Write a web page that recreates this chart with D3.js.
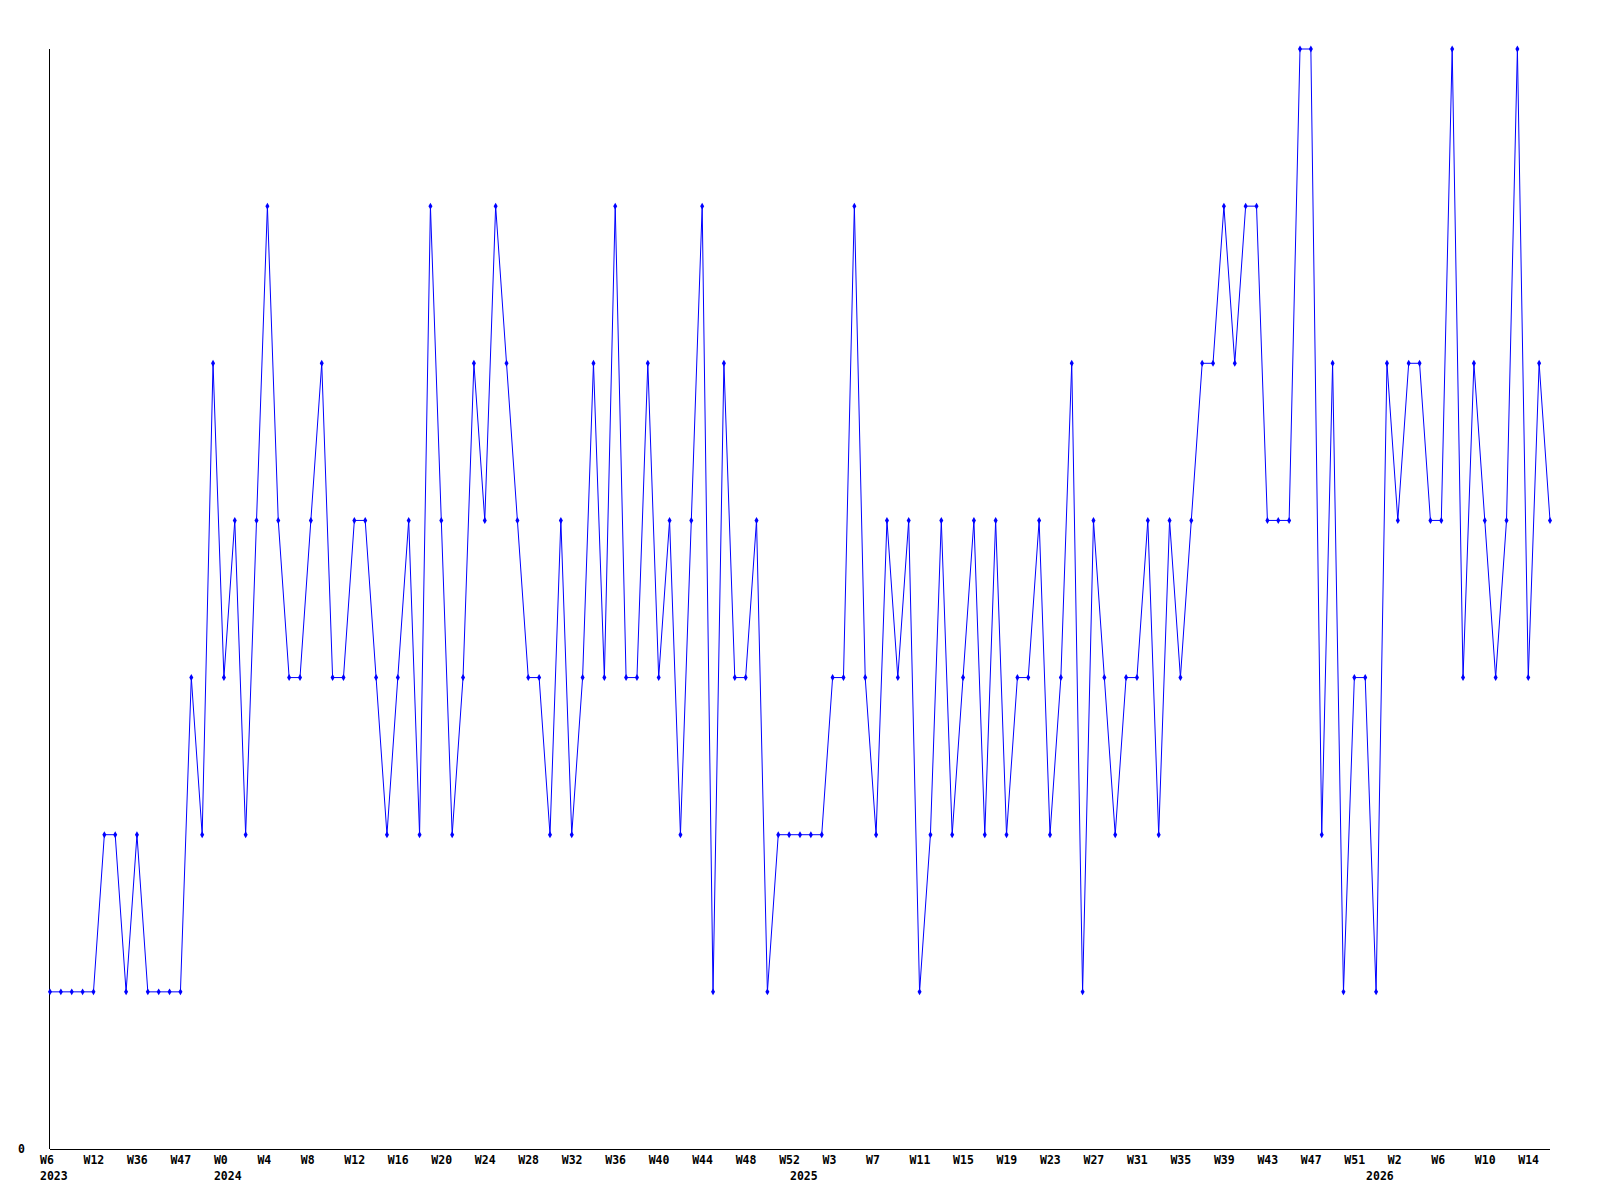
<!DOCTYPE html>
<html>
<head>
<meta charset="utf-8">
<script src="https://cdn.jsdelivr.net/npm/d3@7"></script>
<style>
  body { margin: 0; background: #fff; }
  text { font-family: "DejaVu Sans Mono", monospace; font-weight: bold; font-size: 11.5px; }
</style>
</head>
<body>
<svg id="chart" width="1600" height="1200"></svg>
<script>
// weeks for each point (2023 is sparse, then consecutive weeks)
const years = [
  2023,2023,2023,2023,2023,2023,2023,2023,2023,2023,2023,2023,2023,2023,2023,2023,
  ...Array(53).fill(2024), ...Array(53).fill(2025), ...Array(17).fill(2026)
]
const weeks = [
  6,7,9,10,12,14,20,30,36,38,40,44,47,49,50,52,
  ...d3.range(0, 53), ...d3.range(0, 53), ...d3.range(0, 17)
]
const values = [
  1,1,1,1,1,2,2,1,2,1,1,1,1,3,2,5,
  3,4,2,4,6,4,3,3,4,5,3,3,4,4,3,2,3,4,2,6,4,2,3,5,4,6,5,4,3,3,2,4,2,3,5,3,6,3,3,5,3,4,2,4,6,1,5,3,3,4,1,2,2,
  2,2,2,3,3,6,3,2,4,3,4,1,2,4,2,3,4,2,4,2,3,3,4,2,3,5,1,4,3,2,3,3,4,2,4,3,4,5,5,6,5,6,6,4,4,4,7,7,2,5,1,3,3,
  1,5,4,5,5,4,4,7,3,5,4,3,4,7,3,5,4
]
const yMax = 7

const margin = { left: 50, right: 50, top: 49, bottom: 51 }
const width = 1600, height = 1200

const svg = d3.select('#chart')

const x = d3.scaleLinear()
    .domain([0, values.length - 1])
    .range([margin.left, width - margin.right])

const y = d3.scaleLinear()
    .domain([0, yMax])
    .range([height - margin.bottom, margin.top])

// axes lines
svg.append('line')
    .attr('x1', x(0) - 0.5).attr('x2', x(0) - 0.5)
    .attr('y1', y(yMax)).attr('y2', y(0))
    .attr('stroke', 'black')
    .attr('shape-rendering', 'crispEdges')
svg.append('line')
    .attr('x1', x(0) - 0.5).attr('x2', x(values.length - 1))
    .attr('y1', y(0) + 0.5).attr('y2', y(0) + 0.5)
    .attr('stroke', 'black')
    .attr('shape-rendering', 'crispEdges')

svg.append('text')
    .attr('x', 18)
    .attr('y', y(0) + 4)
    .text('0')

// week labels every 4th point
const ticks = svg.append('g')
d3.range(0, values.length, 4).forEach(i => {
    ticks.append('text')
        .attr('x', x(i) - 10)
        .attr('y', y(0) + 15)
        .text('W' + weeks[i])
})
// year label under the first point of each year
years.forEach((yr, i) => {
    if (i === 0 || years[i - 1] !== yr) {
        ticks.append('text')
            .attr('x', x(i) - 10)
            .attr('y', y(0) + 31)
            .text(yr)
    }
})

const line = d3.line()
    .x((d, i) => x(i))
    .y(d => y(d))

svg.append('path')
    .datum(values)
    .attr('fill', 'none')
    .attr('stroke', '#0000ff')
    .attr('stroke-width', 1)
    .attr('d', line)

svg.selectAll('path.pt')
    .data(values)
    .join('path')
    .attr('class', 'pt')
    .attr('transform', (d, i) => `translate(${x(i)},${y(d)})`)
    .attr('d', d3.symbol(d3.symbolDiamond, 14))
    .attr('fill', '#0000ff')
</script>
</body>
</html>
